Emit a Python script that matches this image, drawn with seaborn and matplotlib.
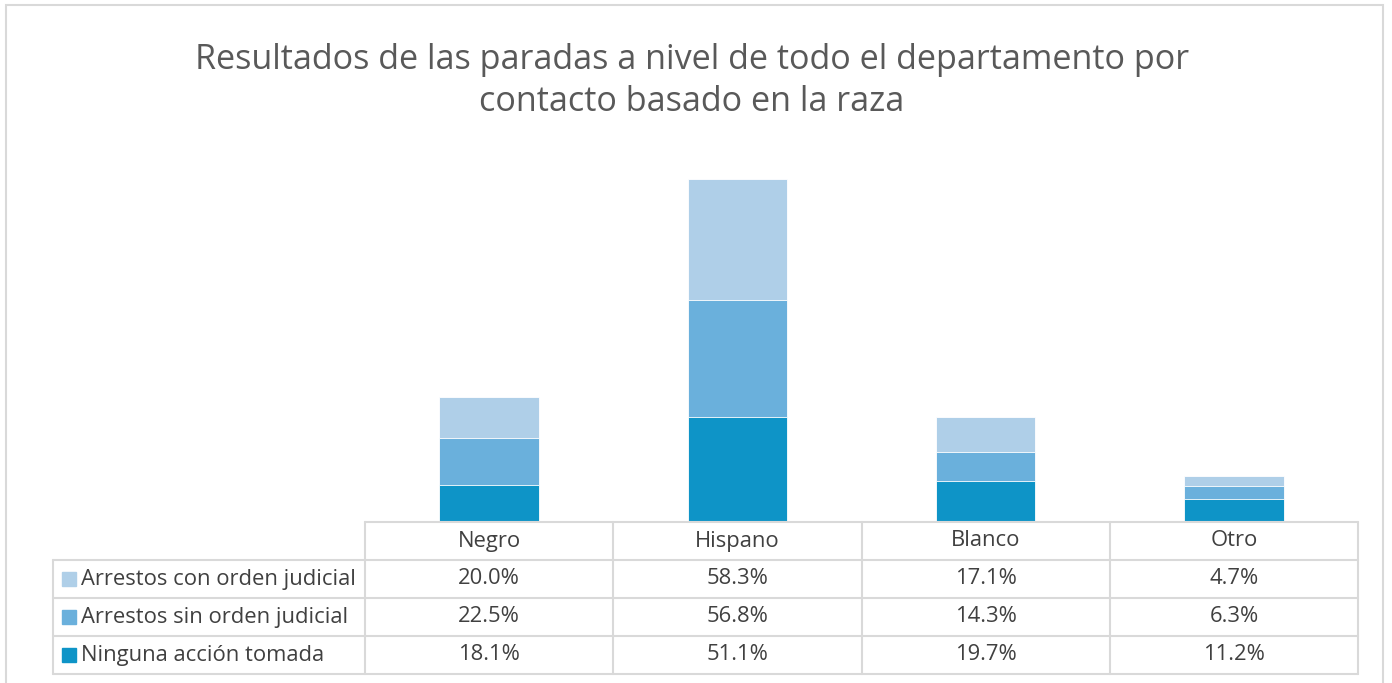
import numpy as np
import pandas as pd
import matplotlib
matplotlib.use('Agg')
import matplotlib.pyplot as plt
from matplotlib.lines import Line2D
from matplotlib.patches import Rectangle
import seaborn as sns

# ── Data ──────────────────────────────────────────────────────────────────────

CATEGORIES = ['Negro', 'Hispano', 'Blanco', 'Otro']
SERIES     = ['Arrestos con orden judicial',
              'Arrestos sin orden judicial',
              'Ninguna acción tomada']
CON_ORDEN  = [20.0, 58.3, 17.1, 4.7]
SIN_ORDEN  = [22.5, 56.8, 14.3, 6.3]
NINGUNA    = [18.1, 51.1, 19.7, 11.2]

COLORS = {'Arrestos con orden judicial': '#AFCFE8',
          'Arrestos sin orden judicial': '#6AB0DC',
          'Ninguna acción tomada':       '#0E94C7'}

TITLE = 'Resultados de las paradas a nivel de todo el departamento por\ncontacto basado en la raza'

W, H = 1392, 683
GRID = '#D9D9D9'
TXT  = '#404040'
FS   = 15.8

# ── Figure ────────────────────────────────────────────────────────────────────

sns.set_theme(style='white')
plt.rcParams['font.family'] = ['Open Sans', 'DejaVu Sans']

fig = plt.figure(figsize=(W / 100, H / 100), dpi=100)

def fx(px):
    return px / W

def fy(py):
    return 1 - py / H

# plot area in pixel coords
L, R, T, B = 365, 1358, 151, 522
ax = fig.add_axes([fx(L), fy(B), fx(R) - fx(L), fy(T) - fy(B)])

vals = {SERIES[0]: CON_ORDEN, SERIES[1]: SIN_ORDEN, SERIES[2]: NINGUNA}
# stack from bottom: Ninguna, Sin orden, Con orden
stack_order = [SERIES[2], SERIES[1], SERIES[0]]
cum = np.zeros(len(CATEGORIES))
layers = []
for s in stack_order:
    cum = cum + np.array(vals[s])
    layers.append((s, cum.copy()))

# draw tallest cumulative first so lower layers overlay it
for s, c in reversed(layers):
    df = pd.DataFrame({'cat': CATEGORIES, 'val': c})
    sns.barplot(data=df, x='cat', y='val', color=COLORS[s], width=0.4,
                saturation=1, ax=ax, edgecolor='white', linewidth=0.6)

ax.set_xlim(-0.5, len(CATEGORIES) - 0.5)
ax.set_ylim(0, 180)
ax.set_xticks([])
ax.set_yticks([])
ax.set_xlabel('')
ax.set_ylabel('')
for sp in ax.spines.values():
    sp.set_visible(False)

# ── Title ─────────────────────────────────────────────────────────────────────

fig.text(fx(692), fy(81), TITLE, ha='center', va='center', fontsize=24.6,
         color='#595959', linespacing=1.32)

# ── Data table ────────────────────────────────────────────────────────────────

col_edges = [365, 613, 862, 1110, 1358]
row_edges = [522, 560, 598, 636, 674]
left_edge = 53

def hline(x0, x1, y):
    fig.add_artist(Line2D([fx(x0), fx(x1)], [fy(y), fy(y)], color=GRID, lw=1.5))

def vline(x, y0, y1):
    fig.add_artist(Line2D([fx(x), fx(x)], [fy(y0), fy(y1)], color=GRID, lw=1.5))

hline(col_edges[0], col_edges[-1], row_edges[0])
for y in row_edges[1:]:
    hline(left_edge, col_edges[-1], y)
for x in col_edges:
    vline(x, row_edges[0], row_edges[-1])
vline(left_edge, row_edges[1], row_edges[-1])

centers = [(a + b) / 2 for a, b in zip(col_edges[:-1], col_edges[1:])]
for cx, cat in zip(centers, CATEGORIES):
    fig.text(fx(cx), fy((row_edges[0] + row_edges[1]) / 2), cat,
             ha='center', va='center', fontsize=FS, color=TXT)

for i, s in enumerate(SERIES):
    yc = (row_edges[i + 1] + row_edges[i + 2]) / 2
    fig.add_artist(Rectangle((fx(62), fy(yc + 7)), fx(14), 14 / H,
                             color=COLORS[s], transform=fig.transFigure))
    fig.text(fx(81), fy(yc), s, ha='left', va='center', fontsize=FS, color=TXT)
    for cx, v in zip(centers, vals[s]):
        fig.text(fx(cx), fy(yc), f'{v:.1f}%', ha='center', va='center',
                 fontsize=FS, color=TXT)

# outer chart frame
fig.add_artist(Rectangle((fx(6), fy(690)), fx(1383) - fx(6), (690 - 5) / H,
                         fill=False, edgecolor=GRID, lw=1.5,
                         transform=fig.transFigure))

fig.savefig('out.png', dpi=100)
